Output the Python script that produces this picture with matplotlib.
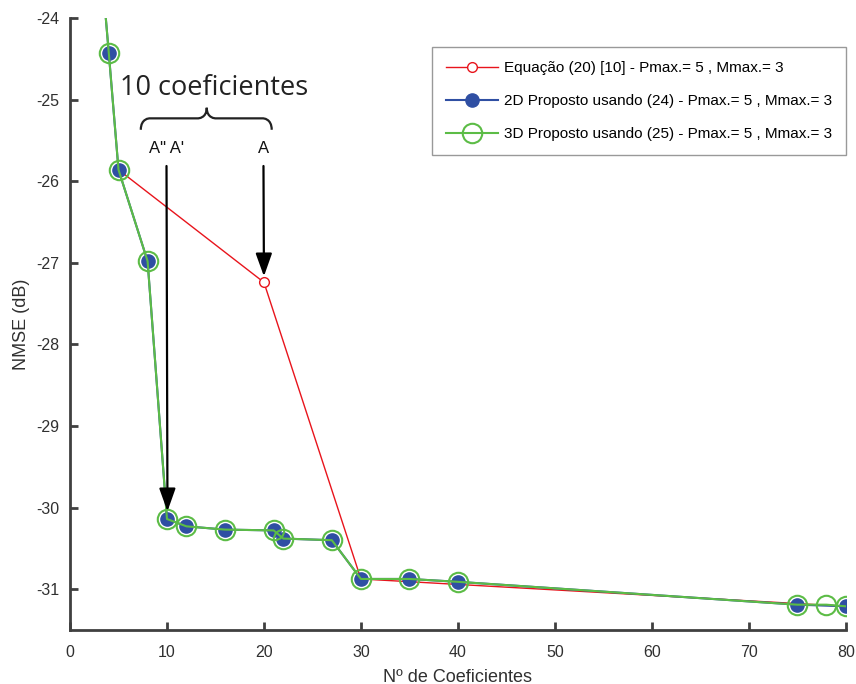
import matplotlib
matplotlib.use("Agg")
import matplotlib.pyplot as plt
from matplotlib.path import Path
from matplotlib.patches import PathPatch

# Number of coefficients and NMSE (dB) per model
x_eq = [5, 20, 30, 80]
y_eq = [-25.86, -27.24, -30.875, -31.21]

x_2d = [3, 4, 5, 8, 10, 12, 16, 21, 22, 27, 30, 35, 40, 75, 80]
y_2d = [-23.05, -24.43, -25.86, -26.98, -30.14, -30.23, -30.27, -30.28,
        -30.38, -30.40, -30.875, -30.875, -30.91, -31.19, -31.21]

x_3d = [3, 4, 5, 8, 10, 12, 16, 21, 22, 27, 30, 35, 40, 75, 78, 80]
y_3d = [-23.05, -24.43, -25.86, -26.98, -30.14, -30.23, -30.27, -30.28,
        -30.38, -30.40, -30.875, -30.875, -30.91, -31.19, -31.19, -31.21]

labels = ["Equação (20) [10] - Pmax.= 5 , Mmax.= 3",
          "2D Proposto usando (24) - Pmax.= 5 , Mmax.= 3",
          "3D Proposto usando (25) - Pmax.= 5 , Mmax.= 3"]

x_ticks = [0, 10, 20, 30, 40, 50, 60, 70, 80]
y_ticks = [-31, -30, -29, -28, -27, -26, -25, -24]

RED = "#e8141c"
BLUE = "#2f4fa3"
GREEN = "#5cbc46"
AXC = "#404040"

plt.rcParams['font.family'] = ['Liberation Sans', 'DejaVu Sans']
plt.rcParams['axes.unicode_minus'] = False

fig = plt.figure(figsize=(8.56, 6.84), dpi=100)
ax = fig.add_axes([0.0818, 0.079, 0.9062, 0.8947])

ax.plot(x_eq, y_eq, color=RED, lw=1.0, marker='o', ms=7, mfc='white',
        mec=RED, mew=1.0, label=labels[0], zorder=3)
ax.plot(x_2d, y_2d, color=BLUE, lw=1.5, marker='o', ms=9.5, mfc=BLUE,
        mec=BLUE, label=labels[1], zorder=4)
ax.plot(x_3d, y_3d, color=GREEN, lw=1.5, marker='o', ms=14, mfc='none',
        mec=GREEN, mew=1.5, label=labels[2], zorder=5)

ax.set_xlim(0, 80)
ax.set_ylim(-31.5, -24)
ax.set_xticks(x_ticks)
ax.set_yticks(y_ticks)
for s in ['top', 'right']:
    ax.spines[s].set_visible(False)
for s in ['left', 'bottom']:
    ax.spines[s].set_color(AXC)
    ax.spines[s].set_linewidth(2.0)
ax.tick_params(direction='in', length=6, width=2, color=AXC,
               labelsize=11.5, labelcolor='#303030')
ax.tick_params(axis='x', pad=11)
ax.tick_params(axis='y', pad=8)
ax.set_xlabel("Nº de Coeficientes", fontsize=13, color='#303030', labelpad=6)
ax.set_ylabel("NMSE (dB)", fontsize=13, color='#303030', labelpad=4)

leg = ax.legend(loc='upper right', bbox_to_anchor=(1.0, 0.952), fontsize=11,
                frameon=True, fancybox=False, borderpad=0.9, labelspacing=1.25,
                handlelength=3.4, handletextpad=0.4, borderaxespad=0.0)
leg.get_frame().set_edgecolor('#808080')
leg.get_frame().set_linewidth(1.0)

# Annotation: brace, labels and arrows
ax.text(14.9, -24.86, "10 coeficientes", fontsize=19.5,
        family=['Open Sans', 'DejaVu Sans'],
        ha='center', va='center', color='#222222')

xl, xm, xr = 7.3, 14.1, 20.8
yb, yh, yt = -25.37, -25.23, -25.10
verts = [(xl, yb), (xl, yh), (xl + 0.9, yh), (xl + 0.9, yh),
         (xm - 0.9, yh), (xm - 0.9, yh), (xm, yh), (xm, yt),
         (xm, yh), (xm + 0.9, yh), (xm + 0.9, yh),
         (xr - 0.9, yh), (xr - 0.9, yh), (xr, yh), (xr, yb)]
codes = [Path.MOVETO, Path.CURVE4, Path.CURVE4, Path.CURVE4,
         Path.LINETO, Path.CURVE4, Path.CURVE4, Path.CURVE4,
         Path.CURVE4, Path.CURVE4, Path.CURVE4,
         Path.LINETO, Path.CURVE4, Path.CURVE4, Path.CURVE4]
ax.add_patch(PathPatch(Path(verts, codes), fill=False, lw=1.6, color='#222222'))

ax.text(10.0, -25.6, "A\" A'", fontsize=12, ha='center', va='center', color='#111111')
ax.text(20.0, -25.6, "A", fontsize=12, ha='center', va='center', color='#111111')

arrow_kw = dict(arrowstyle='-|>,head_length=1.4,head_width=0.5', color='black', lw=1.6)
ax.annotate("", xy=(10.05, -30.08), xytext=(9.95, -25.78), arrowprops=arrow_kw, zorder=6)
ax.annotate("", xy=(20.0, -27.2), xytext=(19.95, -25.78), arrowprops=arrow_kw, zorder=6)

fig.savefig("out.png", dpi=100, facecolor='white')
